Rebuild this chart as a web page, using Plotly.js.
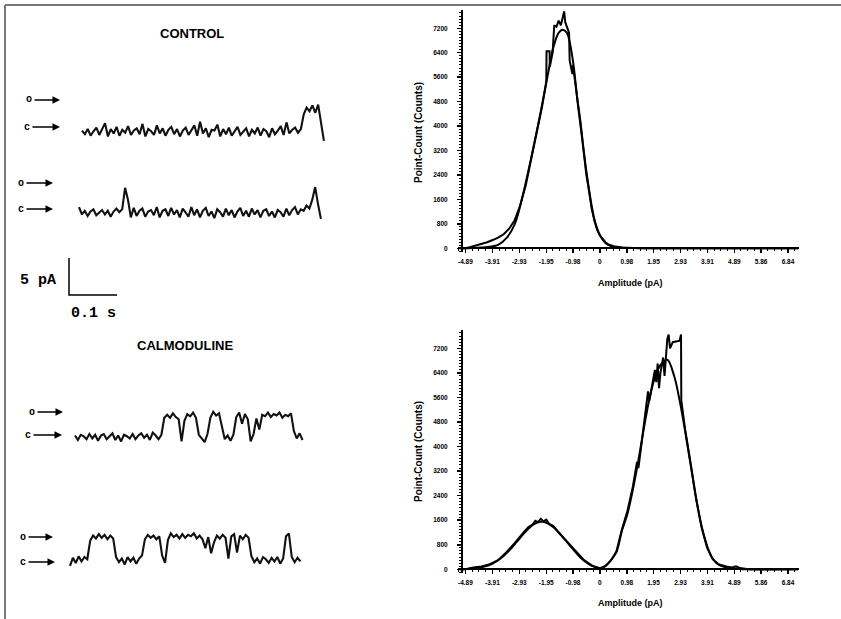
<!DOCTYPE html>
<html>
<head>
<meta charset="utf-8">
<script src="https://cdn.plot.ly/plotly-3.0.1.min.js"></script>
<style>html,body{margin:0;padding:0;background:#fff;}#chart{width:841px;height:619px;}</style>
</head>
<body>
<div id="chart"></div>
<script>
// ---------------- DATA ----------------
// Amplitude histogram tick labels
const ampTickVals = [-4.89,-3.91,-2.93,-1.95,-0.98,0,0.98,1.95,2.93,3.91,4.89,5.86,6.84];
const ampTickText = ["-4.89","-3.91","-2.93","-1.95","-0.98","0","0.98","1.95","2.93","3.91","4.89","5.86","6.84"];
const countTickVals = [0,800,1600,2400,3200,4000,4800,5600,6400,7200];

// CONTROL amplitude histogram (pA, counts)
const controlHistAmp   = [-5.1,-4.9,-4.7,-4.5,-4.3,-4.1,-3.9,-3.7,-3.5,-3.3,-3.1,-2.9,-2.7,-2.5,-2.3,-2.1,-1.95,-1.94,-1.83,-1.82,-1.72,-1.66,-1.58,-1.5,-1.42,-1.34,-1.3,-1.26,-1.18,-1.12,-1.1,-1.0,-0.98,-0.9,-0.8,-0.7,-0.6,-0.5,-0.4,-0.3,-0.2,-0.1,0,0.1,0.2,0.3,0.5,0.8,1.2,2.0,7.2];
const controlHistCount = [0,0,40,90,140,200,270,350,460,640,920,1400,2050,2900,3750,4650,5450,6450,6450,5950,6400,7300,7250,7450,7300,7650,7750,7400,7200,7050,6150,5700,6000,5350,4750,4100,3300,2450,1900,1300,900,600,420,300,200,130,70,30,10,0,0];
// CONTROL fitted curve
const controlFitAmp   = [-5.1,-4.9,-4.6,-4.3,-4.0,-3.7,-3.4,-3.1,-2.8,-2.5,-2.2,-1.9,-1.7,-1.5,-1.35,-1.2,-1.0,-0.8,-0.6,-0.4,-0.2,0,0.2,0.4,0.7,1.2,2.0,7.2];
const controlFitCount = [0,0,10,25,50,110,330,780,1750,2950,4250,5650,6550,7050,7150,7050,6250,4700,3250,1950,950,430,170,70,25,8,0,0];

// CALMODULINE amplitude histogram
const calmHistAmp   = [-5.1,-4.9,-4.6,-4.3,-4.0,-3.7,-3.4,-3.1,-2.8,-2.6,-2.45,-2.35,-2.25,-2.15,-2.05,-1.95,-1.85,-1.7,-1.5,-1.2,-0.9,-0.6,-0.3,0,0.2,0.4,0.6,0.8,1.0,1.2,1.35,1.4,1.5,1.6,1.7,1.75,1.8,1.9,2.0,2.05,2.1,2.15,2.2,2.3,2.35,2.45,2.5,2.55,2.65,2.9,2.93,2.95,2.96,3.1,3.3,3.5,3.7,3.9,4.1,4.3,4.6,4.8,4.95,5.1,5.4,7.2];
const calmHistCount = [0,0,60,90,170,300,560,850,1180,1380,1460,1580,1540,1650,1560,1620,1480,1420,1200,900,600,320,130,30,100,290,580,1300,1900,2700,3500,3300,4000,4700,5500,5800,5500,6000,6500,6100,6700,5900,6400,6900,6300,7500,7650,7200,7400,7450,7650,7650,5500,4550,3450,2300,1350,700,330,170,90,60,100,40,0,0];
// CALMODULINE fitted curve
const calmFitAmp   = [-5.1,-4.9,-4.5,-4.2,-3.9,-3.6,-3.3,-3.0,-2.7,-2.4,-2.15,-1.9,-1.6,-1.3,-1.0,-0.7,-0.4,-0.2,0,0.2,0.4,0.6,0.8,1.0,1.2,1.4,1.6,1.8,2.0,2.2,2.45,2.7,2.9,3.1,3.3,3.5,3.7,3.9,4.1,4.3,4.6,5.0,5.4,7.2];
const calmFitCount = [0,0,40,90,190,360,610,920,1230,1470,1550,1500,1300,1000,680,380,170,80,40,110,300,560,1250,1800,2600,3550,4600,5550,6250,6650,6830,6300,5500,4500,3400,2300,1400,760,350,160,60,20,0,0];

// Single-channel current records (pA, closed level = 0), sampled every 6 ms
const sampleInterval = 0.006;
const controlRecord1 = [0.2,-0.3,0.4,-0.5,0.1,0.6,-0.4,0.3,1.2,-0.6,
 0.4,-0.2,0.7,-0.5,0.3,-0.1,0.8,-0.4,0.2,0.5,
 -0.3,1.1,-0.6,0.4,0.1,-0.4,0.9,-0.2,0.5,-0.5,
 0.3,0.7,-0.3,0.4,-0.6,0.2,0.6,-0.4,0.3,0.9,
 -0.5,1.4,-0.2,0.5,-0.7,0.3,0.2,1.0,-0.6,0.4,
 -0.3,0.6,-0.5,0.2,0.7,-0.4,0.1,0.5,-0.6,0.3,
 -0.2,0.6,-0.5,0.4,0.1,-0.7,0.5,-0.3,0.2,0.8,
 -0.4,1.3,-0.2,0.3,0.6,-0.1,0.4,
 2.4,3.3,2.8,3.6,2.6,3.7,1.0,-1.2];
const controlRecord2 = [0.8,-0.2,0.3,-0.4,0.2,0.5,-0.3,0.1,0.4,-0.2,
 0.3,-0.5,0.2,0.6,0.1,0.5,3.4,1.8,-0.6,0.7,
 -0.4,0.3,0.6,-0.5,0.2,0.4,-0.3,0.8,-0.6,0.3,
 0.5,-0.4,0.7,-0.2,0.4,-0.6,0.6,0.1,-0.5,0.8,
 -0.3,0.5,-0.6,0.3,0.7,-0.4,0.2,-0.7,0.5,0.1,
 -0.5,0.6,-0.3,0.4,-0.6,0.2,0.7,-0.4,0.3,-0.5,
 0.6,-0.2,0.4,-0.6,0.3,0.5,-0.4,0.2,-0.6,0.4,
 0.1,-0.5,0.6,-0.3,0.4,0.8,-0.2,0.5,0.3,1.0,
 0.6,1.8,3.5,1.2,-0.8];
const calmRecord1 = [0.2,-0.4,0.3,0.1,-0.3,0.4,-0.2,0.3,-0.5,0.2,
 0.4,-0.3,0.1,0.5,-0.4,0.2,-0.6,0.3,0.1,-0.2,
 0.4,-0.3,0.2,0.5,-0.1,0.3,-0.4,0.6,0.2,-0.3,
 0.3,2.6,3.0,2.6,3.2,2.7,2.4,-0.6,2.2,3.1,
 2.8,3.3,2.6,0.3,-0.2,-0.7,0.4,2.6,3.4,2.9,
 3.2,1.6,-0.3,0.2,-0.5,0.3,2.7,3.3,1.8,3.1,
 2.4,-0.6,0.4,2.5,1.0,3.0,2.8,3.3,2.7,3.1,
 2.9,3.3,2.6,3.0,2.8,3.2,0.8,-0.2,0.5,-0.4];
const calmRecord2 = [-0.8,0.3,-0.4,0.5,-0.2,0.4,0.1,2.6,3.3,2.9,
 3.5,3.0,3.4,2.8,3.3,2.9,0.4,-0.3,0.2,-0.6,
 0.4,-0.2,0.3,-0.5,0.2,0.6,2.8,3.4,3.0,3.3,
 2.8,3.2,0.6,-0.4,2.7,3.6,3.1,3.4,2.9,3.5,
 3.0,3.4,3.2,3.6,2.9,3.3,2.8,1.6,3.1,0.9,
 2.4,3.3,2.9,3.4,3.0,0.2,3.2,3.5,1.0,3.3,
 2.8,3.4,3.0,0.5,-0.3,0.2,-0.5,0.4,0.1,-0.4,
 0.3,-0.2,0.4,-0.5,0.2,3.2,3.6,0.4,-0.3,0.3,
 -0.2];
// Scale bar values
const scaleBarTime = 0.1;    // s
const scaleBarCurrent = 5;   // pA

// ---------------- LAYOUT CONFIG ----------------
const W = 841, H = 619;
const PX_PER_S = 480, PX_PER_PA = 7.4;
const recordPos = [
  {x0: 82, base: 132},
  {x0: 79, base: 213},
  {x0: 75, base: 437},
  {x0: 70, base: 560}
];
const records = [controlRecord1, controlRecord2, calmRecord1, calmRecord2];
const scalePos = {x0: 69, base: 295};

function xDom(x0, r0, r1, ppu) { return [(x0 + r0*ppu)/W, (x0 + r1*ppu)/W]; }
function yDom(base, r0, r1, ppu) { return [(H - (base - r0*ppu))/H, (H - (base - r1*ppu))/H]; }

const hidden = {visible:false, showgrid:false, zeroline:false, fixedrange:true};
const tickFont = {family:'"Liberation Sans Narrow","Liberation Sans",Arial,sans-serif', size:6.5, color:'#000', weight:700};

function histX(pos) {
  return {domain:[458/W, 799/W], range:[-5.16, 7.24], anchor:'free', position:pos,
    showline:true, linecolor:'#000', linewidth:2, showgrid:false, zeroline:false,
    ticks:'outside', ticklen:4, tickwidth:1.5, tickcolor:'#000',
    tickmode:'array', tickvals:ampTickVals, ticktext:ampTickText, tickfont:tickFont, ticklabelstandoff:3,
    minor:{ticks:'outside', ticklen:2, tickwidth:1, tickcolor:'#000', dtick:0.2443, tick0:-4.89}};
}
function histY(domPx) {
  return {domain:[(H-domPx[0])/H, (H-domPx[1])/H], range:domPx[2], anchor:'free', position:462/W,
    showline:true, linecolor:'#000', linewidth:2, showgrid:false, zeroline:false,
    ticks:'outside', ticklen:4, tickwidth:1.5, tickcolor:'#000',
    tickmode:'array', tickvals:countTickVals, tickfont:tickFont, ticklabelstandoff:8,
    minor:{ticks:'outside', ticklen:2, tickwidth:1, tickcolor:'#000', dtick:100, tick0:0}};
}

const layout = {
  width: W, height: H, margin:{l:0,r:0,t:0,b:0}, paper_bgcolor:'#fff', plot_bgcolor:'rgba(0,0,0,0)',
  showlegend:false,
  xaxis: histX((H-248.3)/H),
  yaxis: histY([252, 10, [-121, 7798]]),
  xaxis2: histX((H-569.3)/H),
  yaxis2: histY([573, 330, [-120, 7797]]),
  annotations: [], shapes: []
};

const data = [
  {x:controlHistAmp, y:controlHistCount, xaxis:'x', yaxis:'y', mode:'lines', line:{color:'#000', width:2}},
  {x:controlFitAmp, y:controlFitCount, xaxis:'x', yaxis:'y', mode:'lines', line:{color:'#000', width:2, shape:'spline'}},
  {x:calmHistAmp, y:calmHistCount, xaxis:'x2', yaxis:'y2', mode:'lines', line:{color:'#000', width:2}},
  {x:calmFitAmp, y:calmFitCount, xaxis:'x2', yaxis:'y2', mode:'lines', line:{color:'#000', width:2, shape:'spline'}}
];

records.forEach((rec, i) => {
  const n = 3 + i;
  const p = recordPos[i];
  const t = rec.map((_, k) => k*sampleInterval);
  const dur = t[t.length-1];
  layout['xaxis'+n] = Object.assign({}, hidden, {domain:xDom(p.x0, -0.01, dur+0.01, PX_PER_S), range:[-0.01, dur+0.01], anchor:'y'+n});
  layout['yaxis'+n] = Object.assign({}, hidden, {domain:yDom(p.base, -3, 6, PX_PER_PA), range:[-3, 6], anchor:'x'+n});
  data.push({x:t, y:rec, xaxis:'x'+n, yaxis:'y'+n, mode:'lines', line:{color:'#111', width:2.1}});
});

// scale bar
layout.xaxis7 = Object.assign({}, hidden, {domain:xDom(scalePos.x0, -0.02, scaleBarTime+0.02, PX_PER_S), range:[-0.02, scaleBarTime+0.02], anchor:'y7'});
layout.yaxis7 = Object.assign({}, hidden, {domain:yDom(scalePos.base, -1, scaleBarCurrent+1, PX_PER_PA), range:[-1, scaleBarCurrent+1], anchor:'x7'});
data.push({x:[0,0,scaleBarTime], y:[scaleBarCurrent,0,0], xaxis:'x7', yaxis:'y7', mode:'lines', line:{color:'#000', width:1.5}});

// text
const sans = '"Liberation Sans",Arial,sans-serif';
const mono = '"Liberation Mono","Courier New",monospace';
function txt(s, x, y, font, extra) {
  layout.annotations.push(Object.assign({text:s, x:x/W, y:(H-y)/H, xref:'paper', yref:'paper', showarrow:false,
    xanchor:'center', yanchor:'middle', font:font}, extra||{}));
}
txt('CONTROL', 192, 33, {family:sans, size:13, color:'#000', weight:700});
txt('CALMODULINE', 185, 345, {family:sans, size:13, color:'#000', weight:700});
txt('5 pA', 38, 280, {family:mono, size:15, color:'#000', weight:700});
txt('0.1 s', 93, 313, {family:mono, size:15, color:'#000', weight:700});
const titleFont = {family:'"Liberation Sans Narrow","Liberation Sans",Arial,sans-serif', size:9, color:'#000', weight:700};
txt('Amplitude (pA)', 630, 283, titleFont);
txt('Amplitude (pA)', 630, 603, titleFont);
txt('Point-Count (Counts)', 418, 133, Object.assign({}, titleFont, {size:10}), {textangle:-90});
txt('Point-Count (Counts)', 418, 452, Object.assign({}, titleFont, {size:10}), {textangle:-90});

// state arrows (o = open, c = closed)
const stateArrows = [
  {label:'o', tx:29, hx:60, y:100}, {label:'c', tx:27, hx:60, y:127},
  {label:'o', tx:21, hx:53, y:183}, {label:'c', tx:21, hx:53, y:209},
  {label:'o', tx:32, hx:63, y:412}, {label:'c', tx:28, hx:62, y:435},
  {label:'o', tx:23, hx:53, y:537}, {label:'c', tx:23, hx:55, y:562}
];
stateArrows.forEach(a => {
  layout.annotations.push({text:a.label, x:a.hx/W, y:(H-a.y)/H, xref:'paper', yref:'paper',
    showarrow:true, ax:a.tx-a.hx, ay:0, arrowhead:2, arrowsize:1, arrowwidth:1.5, arrowcolor:'#000',
    standoff:0, startstandoff:1, font:{family:mono, size:10, color:'#000', weight:700}});
});

// frame lines
layout.shapes.push({type:'line', xref:'paper', yref:'paper', x0:5/W, x1:1, y0:(H-5)/H, y1:(H-5)/H, line:{color:'#777', width:2}});
layout.shapes.push({type:'line', xref:'paper', yref:'paper', x0:5/W, x1:5/W, y0:0, y1:(H-5)/H, line:{color:'#777', width:2}});

Plotly.newPlot('chart', data, layout, {staticPlot:true, displayModeBar:false});
</script>
</body>
</html>
